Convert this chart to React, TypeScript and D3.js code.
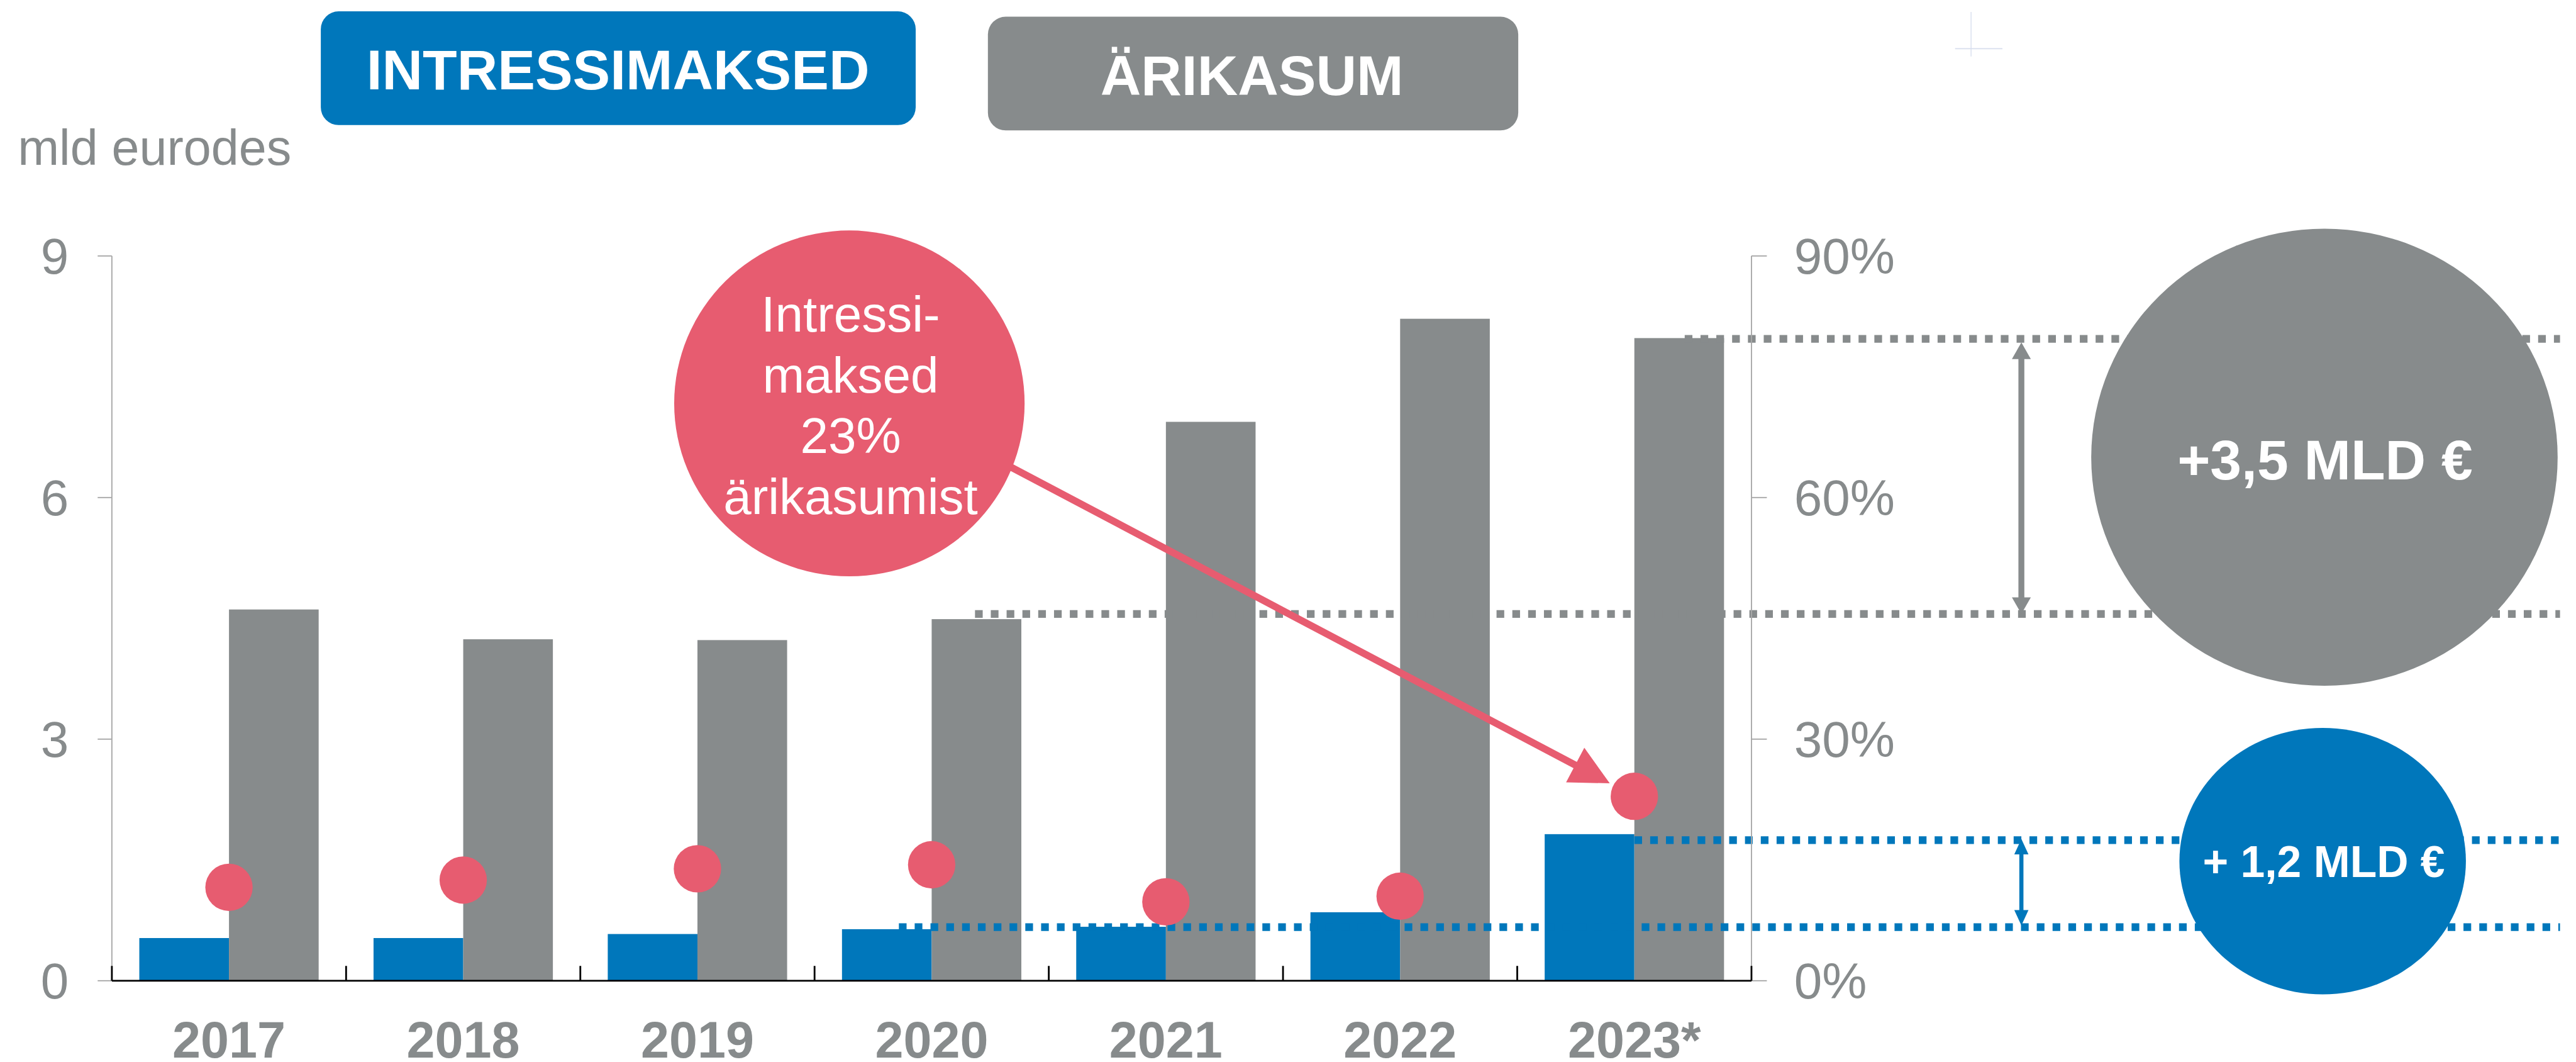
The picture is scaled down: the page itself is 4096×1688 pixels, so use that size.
import React from "react";
import * as d3 from "d3";

// ---- data ----
const years = ["2017", "2018", "2019", "2020", "2021", "2022", "2023*"];
const interestPayments = [0.53, 0.53, 0.58, 0.64, 0.67, 0.85, 1.82]; // mld €
const operatingProfit = [4.61, 4.24, 4.23, 4.49, 6.94, 8.22, 7.98]; // mld €
const interestSharePct = [11.6, 12.5, 13.9, 14.4, 9.8, 10.5, 22.9]; // % of profit
const leftTicks = [0, 3, 6, 9];
const rightTicks = [0, 30, 60, 90];
const rightTickLabels = ["0%", "30%", "60%", "90%"];
const legendLabels = ["INTRESSIMAKSED", "ÄRIKASUM"];
const unitLabel = "mld eurodes";
const calloutLines = ["Intressi-", "maksed", "23%", "ärikasumist"];
const profitChangeLabel = "+3,5 MLD €";
const interestChangeLabel = "+ 1,2 MLD €";
// reference levels (mld €) for dotted guide lines
const profitHighLevel = 7.97;
const profitLowLevel = 4.555;
const interestHighLevel = 1.746;
const interestLowLevel = 0.665;

// ---- style ----
const BLUE = "#0077BB";
const GRAY = "#878B8C";
const PINK = "#E75C70";
const AXIS_GRAY = "#A8A8A8";
const FONT = "'Liberation Sans', Arial, Helvetica, sans-serif";

export default function App() {
  const W = 4352;
  const H = 1793;
  const x0 = 189;
  const x1 = 2959;
  const yBase = 1656;
  const yTop = 432;

  const x = d3.scaleBand<string>().domain(years).range([x0, x1]).paddingInner(0).paddingOuter(0);
  const bw = x.bandwidth();
  const sub = d3.scaleBand<string>().domain(["interest", "profit"]).range([0, bw]).paddingInner(0).paddingOuter(0.306);
  const y = d3.scaleLinear().domain([0, 9]).range([yBase, yTop]);
  const yR = d3.scaleLinear().domain([0, 90]).range([yBase, yTop]);

  const cx = (i: number) => (x(years[i]) as number) + bw / 2;

  const dash = "13 13.7";
  const lineEnd = 4325;
  const guideLines = [
    { y: y(profitHighLevel), x: cx(6) + 0.215 * bw, color: GRAY },
    { y: y(profitLowLevel), x: cx(3) + 0.185 * bw, color: GRAY },
    { y: y(interestHighLevel), x: cx(6), color: BLUE },
    { y: y(interestLowLevel), x: cx(3) - 0.14 * bw, color: BLUE },
  ];

  // callout arrow toward 2023 dot
  const dotR = 40;
  const start: [number, number] = [1705, 787];
  const dot: [number, number] = [cx(6), yR(interestSharePct[6])];
  const dx = dot[0] - start[0];
  const dy = dot[1] - start[1];
  const len = Math.hypot(dx, dy);
  const ux = dx / len;
  const uy = dy / len;
  const tip: [number, number] = [dot[0] - ux * (dotR + 7), dot[1] - uy * (dotR + 7)];
  const headL = 66;
  const headW = 33;
  const base: [number, number] = [tip[0] - ux * headL, tip[1] - uy * headL];
  const headPts = [
    tip,
    [base[0] - uy * headW, base[1] + ux * headW],
    [base[0] + uy * headW, base[1] - ux * headW],
  ]
    .map((p) => p.join(","))
    .join(" ");

  const arrowX = 3415;
  const dblArrow = (yA: number, yB: number, color: string, shaft: number, hw: number, hl: number) => (
    <g>
      <line x1={arrowX} x2={arrowX} y1={yA + hl - 2} y2={yB - hl + 2} stroke={color} strokeWidth={shaft} />
      <polygon points={`${arrowX},${yA} ${arrowX - hw / 2},${yA + hl} ${arrowX + hw / 2},${yA + hl}`} fill={color} />
      <polygon points={`${arrowX},${yB} ${arrowX - hw / 2},${yB - hl} ${arrowX + hw / 2},${yB - hl}`} fill={color} />
    </g>
  );

  return (
    <svg
      width={4096}
      height={1688}
      viewBox={`0 0 ${W} ${H}`}
      style={{ position: "absolute", left: 0, top: 0, background: "#fff" }}
      fontFamily={FONT}
    >
      <rect x={0} y={0} width={W} height={H} fill="#fff" />

      {/* faint artifact cross */}
      <line x1={3330} x2={3330} y1={20} y2={95} stroke="#D8DEEE" strokeWidth={1.5} />
      <line x1={3303} x2={3383} y1={82} y2={82} stroke="#D8DEEE" strokeWidth={2} />

      {/* legend boxes */}
      <rect x={542} y={19} width={1005} height={192} rx={30} fill={BLUE} />
      <text x={1044} y={151} textAnchor="middle" fontSize={95} fontWeight="bold" fill="#fff">
        {legendLabels[0]}
      </text>
      <rect x={1669} y={28} width={896} height={192} rx={30} fill={GRAY} />
      <text x={2115} y={160} textAnchor="middle" fontSize={95} fontWeight="bold" fill="#fff">
        {legendLabels[1]}
      </text>

      <text x={30} y={278} fontSize={84} fill={GRAY}>
        {unitLabel}
      </text>

      {/* bars */}
      {years.map((yr, i) => (
        <g key={yr}>
          <rect
            x={(x(yr) as number) + (sub("interest") as number)}
            y={y(interestPayments[i])}
            width={sub.bandwidth()}
            height={yBase - y(interestPayments[i])}
            fill={BLUE}
          />
          <rect
            x={(x(yr) as number) + (sub("profit") as number)}
            y={y(operatingProfit[i])}
            width={sub.bandwidth()}
            height={yBase - y(operatingProfit[i])}
            fill={GRAY}
          />
        </g>
      ))}

      {/* dotted guide lines */}
      {guideLines.map((g, i) => (
        <line key={i} x1={g.x} x2={lineEnd} y1={g.y} y2={g.y} stroke={g.color} strokeWidth={13} strokeDasharray={dash} />
      ))}

      {/* left axis */}
      <line x1={x0} x2={x0} y1={yTop} y2={yBase} stroke={AXIS_GRAY} strokeWidth={2} />
      {leftTicks.map((t) => (
        <g key={t}>
          <line x1={x0 - 24} x2={x0} y1={y(t)} y2={y(t)} stroke={AXIS_GRAY} strokeWidth={2} />
          <text x={116} y={y(t) + 30} textAnchor="end" fontSize={85} fill={GRAY}>
            {t}
          </text>
        </g>
      ))}

      {/* right axis */}
      <line x1={x1} x2={x1} y1={yTop} y2={yBase} stroke={AXIS_GRAY} strokeWidth={2} />
      {rightTicks.map((t, i) => (
        <g key={t}>
          <line x1={x1} x2={x1 + 26} y1={yR(t)} y2={yR(t)} stroke={AXIS_GRAY} strokeWidth={2} />
          <text x={3031} y={yR(t) + 30} textAnchor="start" fontSize={85} fill={GRAY}>
            {rightTickLabels[i]}
          </text>
        </g>
      ))}

      {/* x axis */}
      <line x1={x0} x2={x1} y1={yBase} y2={yBase} stroke="#000" strokeWidth={3} />
      {d3.range(years.length + 1).map((k) => (
        <line key={k} x1={x0 + k * bw} x2={x0 + k * bw} y1={yBase - 25} y2={yBase} stroke="#000" strokeWidth={3} />
      ))}
      {years.map((yr, i) => (
        <text key={yr} x={cx(i)} y={1786} textAnchor="middle" fontSize={86} fontWeight="bold" fill={GRAY}>
          {yr}
        </text>
      ))}

      {/* share dots */}
      {years.map((yr, i) => (
        <circle key={yr} cx={cx(i)} cy={yR(interestSharePct[i])} r={dotR} fill={PINK} />
      ))}

      {/* change arrows */}
      {dblArrow(y(profitHighLevel) + 6, y(profitLowLevel), GRAY, 10, 32, 28)}
      {dblArrow(y(interestHighLevel) - 2, y(interestLowLevel) - 3, BLUE, 7, 24, 26)}

      {/* right circles */}
      <ellipse cx={3927} cy={772} rx={394} ry={386} fill={GRAY} />
      <text x={3928} y={809} textAnchor="middle" fontSize={95} fontWeight="bold" fill="#fff">
        {profitChangeLabel}
      </text>
      <ellipse cx={3924} cy={1454} rx={242} ry={225} fill={BLUE} />
      <text x={3926} y={1481} textAnchor="middle" fontSize={74} fontWeight="bold" fill="#fff">
        {interestChangeLabel}
      </text>

      {/* callout */}
      <line x1={start[0]} y1={start[1]} x2={base[0] + ux * 4} y2={base[1] + uy * 4} stroke={PINK} strokeWidth={12} />
      <polygon points={headPts} fill={PINK} />
      <ellipse cx={1435} cy={681} rx={296} ry={292} fill={PINK} />
      {calloutLines.map((l, i) => (
        <text key={i} x={1437} y={560 + i * 102.6} textAnchor="middle" fontSize={85} fill="#fff">
          {l}
        </text>
      ))}
    </svg>
  );
}
